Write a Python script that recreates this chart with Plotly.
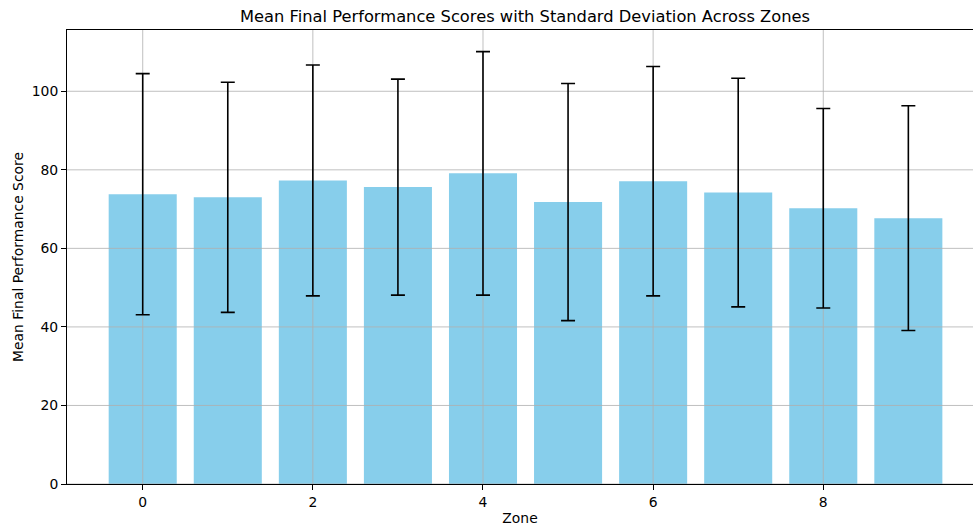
import plotly.graph_objects as go

zones = [0, 1, 2, 3, 4, 5, 6, 7, 8, 9]
mean_scores = [73.8, 73.0, 77.3, 75.6, 79.1, 71.8, 77.1, 74.2, 70.2, 67.7]
std_scores = [30.7, 29.3, 29.4, 27.5, 31.0, 30.2, 29.2, 29.1, 25.4, 28.6]
x_ticks = [0, 2, 4, 6, 8]
y_ticks = [0, 20, 40, 60, 80, 100]

x_range = [-0.89, 9.76]
y_top = max(m + s for m, s in zip(mean_scores, std_scores)) * 1.05
y_range = [0, y_top]

GRID = "#b0b0b0"
FONT = "DejaVu Sans, Liberation Sans, sans-serif"

fig = go.Figure()
fig.add_trace(go.Bar(
    x=zones, y=mean_scores, width=0.8,
    marker=dict(color="#87CEEB", line=dict(width=0)),
    showlegend=False, hoverinfo="skip",
))

# gridlines above bars, below error bars (matplotlib ordering)
gx, gy = [], []
for t in x_ticks:
    gx += [t, t, None]
    gy += [y_range[0], y_range[1], None]
fig.add_trace(go.Scatter(x=gx, y=gy, mode="lines", line=dict(color=GRID, width=0.8),
                         showlegend=False, hoverinfo="skip"))
hx, hy = [], []
for t in y_ticks:
    hx += [x_range[0], x_range[1], None]
    hy += [t, t, None]
fig.add_trace(go.Scatter(x=hx, y=hy, mode="lines", line=dict(color=GRID, width=0.8),
                         showlegend=False, hoverinfo="skip"))

fig.add_trace(go.Scatter(
    x=zones, y=mean_scores, mode="markers",
    marker=dict(size=0.1, color="rgba(0,0,0,0)"),
    error_y=dict(type="data", array=std_scores, visible=True, color="black",
                 thickness=1.6, width=7),
    showlegend=False, hoverinfo="skip",
))

fig.update_layout(
    width=974, height=529,
    margin=dict(l=67, r=1, t=30, b=45, autoexpand=False),
    paper_bgcolor="white", plot_bgcolor="white",
    font=dict(family=FONT, size=13.9, color="black"),
    bargap=0.2,
    title=dict(text="Mean Final Performance Scores with Standard Deviation Across Zones",
               x=525 / 974, xref="container", xanchor="center",
               y=1 - 16 / 529, yref="container", yanchor="middle",
               font=dict(size=16.3, color="black")),
)
fig.update_xaxes(
    automargin=False,
    range=x_range, tickmode="array", tickvals=x_ticks, ticktext=[str(t) for t in x_ticks],
    showgrid=False, zeroline=False, showline=True, linecolor="black", linewidth=1,
    mirror=True, ticks="outside", ticklen=5, tickwidth=1, tickcolor="black",
    title=dict(text="Zone", font=dict(size=13.9), standoff=4),
)
fig.update_yaxes(
    automargin=False,
    range=y_range, tickmode="array", tickvals=y_ticks, ticktext=[str(t) for t in y_ticks],
    showgrid=False, zeroline=False, showline=True, linecolor="black", linewidth=1,
    mirror=False, ticks="outside", ticklen=5, tickwidth=1, tickcolor="black",
    title=dict(text="Mean Final Performance Score", font=dict(size=13.9), standoff=4),
)

fig.write_html(
    "out.html",
    config={"displayModeBar": False},
    post_script="document.body.style.margin='0';document.body.style.overflow='hidden';",
)
